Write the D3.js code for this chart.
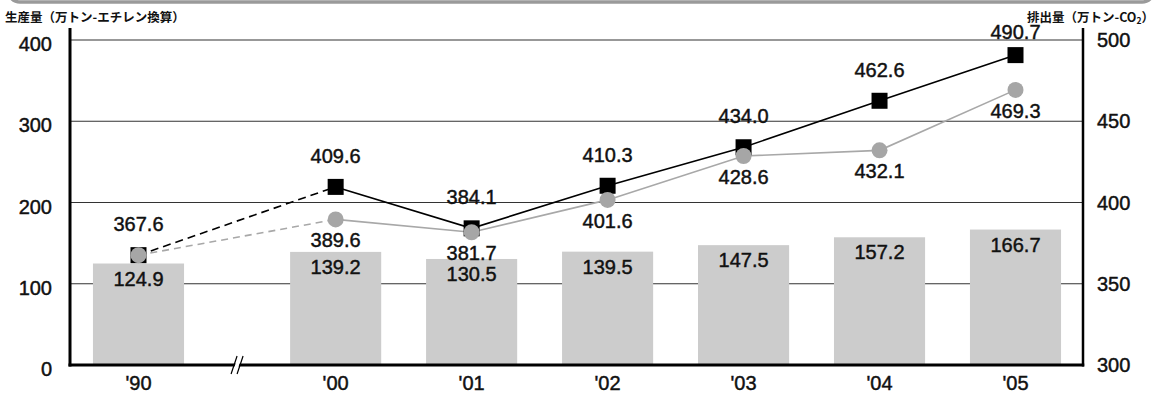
<!DOCTYPE html>
<html>
<head>
<meta charset="utf-8">
<script src="https://cdn.jsdelivr.net/npm/d3@7"></script>
<style>
  body { margin: 0; background: #fff; }
  svg { display: block; }
  .num { font-family: "Liberation Sans", Arial, sans-serif; font-size: 20px; fill: #111; stroke: #111; stroke-width: 0.45px; }
  .ttl { font-family: "Noto Sans CJK JP", sans-serif; font-size: 12.5px; font-weight: 700; fill: #111; }
</style>
</head>
<body>
<svg id="chart" width="1162" height="395"></svg>
<script>
// data
const years = ["'90", "'00", "'01", "'02", "'03", "'04", "'05"];
const slots = [0, 1.45, 2.45, 3.45, 4.45, 5.45, 6.45]; // '90 sits before the axis break
const production = [124.9, 139.2, 130.5, 139.5, 147.5, 157.2, 166.7];
const emissionsBlack = [367.6, 409.6, 384.1, 410.3, 434.0, 462.6, 490.7];
const emissionsGray = [367.6, 389.6, 381.7, 401.6, 428.6, 432.1, 469.3];
const leftTicks = [0, 100, 200, 300, 400];
const rightTicks = [300, 350, 400, 450, 500];
const leftTitle = "生産量（万トン-エチレン換算）";
const rightTitle = "排出量（万トン-CO";

const svg = d3.select('#chart');
const plotLeft = 70, plotRight = 1083, plotTop = 28;

const x = d3.scaleLinear().domain([0, 6.45]).range([138.5, 1015.5]);
const yL = d3.scaleLinear().domain([0, 400]).range([365, 40]);
const yR = d3.scaleLinear().domain([300, 500]).range([365, 40]);
const step = x(slots[2]) - x(slots[1]);
const barW = step * 0.67;

// top frame edge
svg.append('rect')
  .attr('x', 8).attr('y', -40).attr('width', 1146).attr('height', 42)
  .attr('rx', 12)
  .attr('fill', 'none').attr('stroke', '#9a9a9a').attr('stroke-width', 3.5);

// gridlines
svg.append('g').selectAll('line')
  .data(leftTicks.filter(d => d > 0))
  .join('line')
  .attr('x1', plotLeft).attr('x2', plotRight)
  .attr('y1', d => yL(d)).attr('y2', d => yL(d))
  .attr('stroke', '#333').attr('stroke-width', 1.2);

// bars
svg.append('g').selectAll('rect')
  .data(production)
  .join('rect')
  .attr('x', (d, i) => x(slots[i]) - barW / 2)
  .attr('width', barW)
  .attr('y', d => yL(d))
  .attr('height', d => yL(0) - yL(d))
  .attr('fill', '#cccccc');

svg.append('g').selectAll('text')
  .data(production)
  .join('text')
  .attr('class', 'num')
  .attr('text-anchor', 'middle')
  .attr('x', (d, i) => x(slots[i]))
  .attr('y', d => yL(d) + 22)
  .text(d => d.toFixed(1));

// axes
svg.append('line')
  .attr('x1', plotLeft).attr('x2', plotLeft)
  .attr('y1', plotTop).attr('y2', yL(0) + 1.5)
  .attr('stroke', '#000').attr('stroke-width', 3);
svg.append('line')
  .attr('x1', plotRight).attr('x2', plotRight)
  .attr('y1', plotTop).attr('y2', yL(0) + 1.5)
  .attr('stroke', '#000').attr('stroke-width', 2.5);
svg.append('line')
  .attr('x1', plotLeft - 1.5).attr('x2', plotRight + 1.25)
  .attr('y1', yL(0)).attr('y2', yL(0))
  .attr('stroke', '#000').attr('stroke-width', 3);

// axis break between '90 and '00
const bx = (x(slots[0]) + x(slots[1])) / 2;
const by = yL(0);
svg.append('polygon')
  .attr('points', [[bx - 5, by + 9], [bx + 1, by - 9], [bx + 5, by - 9], [bx - 1, by + 9]].join(' '))
  .attr('fill', '#fff');
svg.append('g').selectAll('line')
  .data([-3, 3])
  .join('line')
  .attr('x1', d => bx + d - 3).attr('y1', by + 9)
  .attr('x2', d => bx + d + 3).attr('y2', by - 9)
  .attr('stroke', '#000').attr('stroke-width', 1.2);

// tick labels
svg.append('g').selectAll('text')
  .data(leftTicks)
  .join('text')
  .attr('class', 'num')
  .attr('text-anchor', 'end')
  .attr('x', 52)
  .attr('y', d => yL(d) + 11)
  .text(d => d);

svg.append('g').selectAll('text')
  .data(rightTicks)
  .join('text')
  .attr('class', 'num')
  .attr('x', 1097)
  .attr('y', d => yR(d) + 7)
  .text(d => d);

svg.append('g').selectAll('text')
  .data(years)
  .join('text')
  .attr('class', 'num')
  .attr('text-anchor', 'middle')
  .attr('x', (d, i) => x(slots[i]))
  .attr('y', 390)
  .text(d => d);

// axis titles
svg.append('text')
  .attr('class', 'ttl')
  .attr('x', 5).attr('y', 22)
  .text(leftTitle);
const rt = svg.append('text')
  .attr('class', 'ttl')
  .attr('text-anchor', 'end')
  .attr('x', 1154).attr('y', 22);
rt.append('tspan').text(rightTitle);
rt.append('tspan').attr('font-size', '8.5px').attr('dy', 2).text('2');
rt.append('tspan').attr('dy', -2).text('）');

// lines
const pts = (arr) => arr.map((v, i) => [x(slots[i]), yR(v)]);
const line = d3.line();

function drawSeries(values, color, width, dash) {
  const p = pts(values);
  svg.append('path')
    .attr('d', line(p.slice(0, 2)))
    .attr('fill', 'none').attr('stroke', color)
    .attr('stroke-width', width).attr('stroke-dasharray', dash);
  svg.append('path')
    .attr('d', line(p.slice(1)))
    .attr('fill', 'none').attr('stroke', color)
    .attr('stroke-width', width);
}
drawSeries(emissionsGray, '#a8a8a8', 1.6, '7,5');
drawSeries(emissionsBlack, '#000', 1.6, '8,5');

svg.append('g').selectAll('rect')
  .data(emissionsBlack)
  .join('rect')
  .attr('x', (d, i) => x(slots[i]) - 8)
  .attr('y', d => yR(d) - 8)
  .attr('width', 16).attr('height', 16)
  .attr('fill', '#000');

svg.append('g').selectAll('circle')
  .data(emissionsGray)
  .join('circle')
  .attr('cx', (d, i) => x(slots[i]))
  .attr('cy', d => yR(d))
  .attr('r', 8)
  .attr('fill', '#a6a6a6');

// point labels (kept below the axis titles)
svg.append('g').selectAll('text')
  .data(emissionsBlack)
  .join('text')
  .attr('class', 'num')
  .attr('text-anchor', 'middle')
  .attr('x', (d, i) => x(slots[i]))
  .attr('y', d => Math.max(yR(d) - 24, 39))
  .text(d => d.toFixed(1));

svg.append('g').selectAll('text')
  .data(emissionsGray.slice(1))
  .join('text')
  .attr('class', 'num')
  .attr('text-anchor', 'middle')
  .attr('x', (d, i) => x(slots[i + 1]))
  .attr('y', d => yR(d) + 28)
  .text(d => d.toFixed(1));
</script>
</body>
</html>
